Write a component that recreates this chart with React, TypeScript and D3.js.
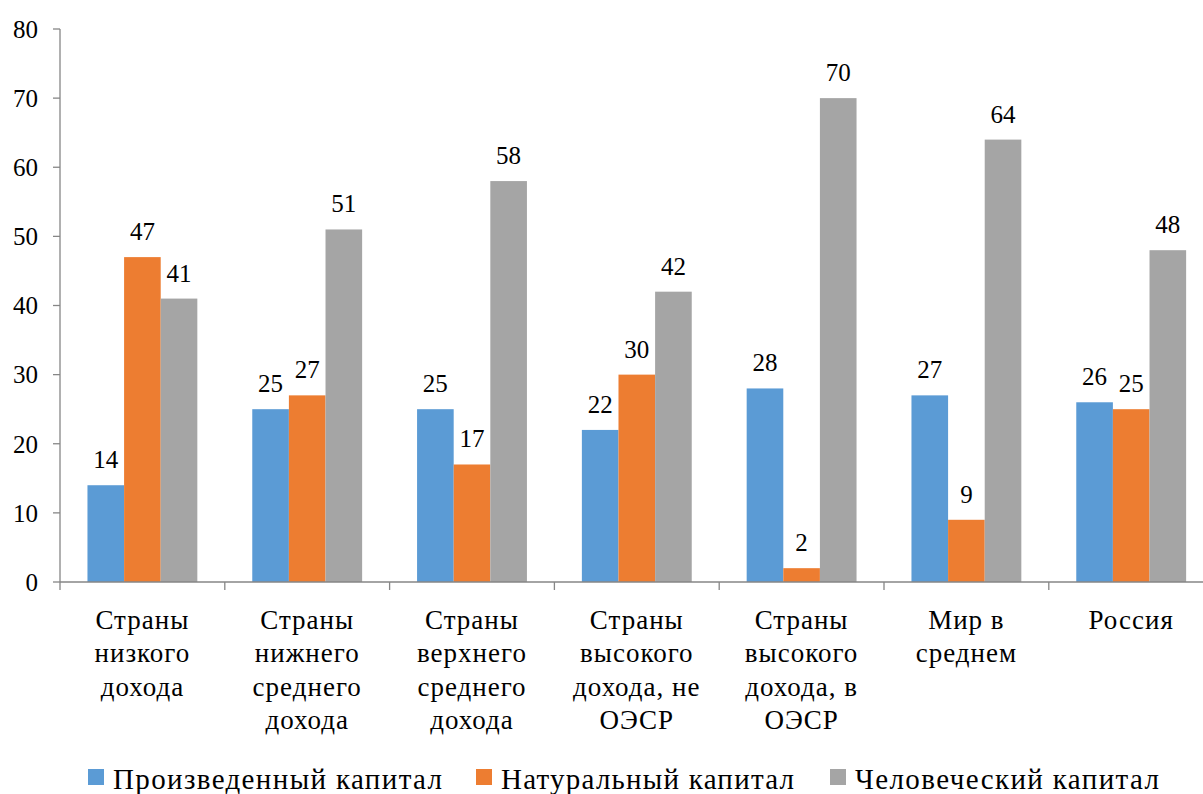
import * as d3 from "d3";

const categories = [
  ["Страны", "низкого", "дохода"],
  ["Страны", "нижнего", "среднего", "дохода"],
  ["Страны", "верхнего", "среднего", "дохода"],
  ["Страны", "высокого", "дохода, не", "ОЭСР"],
  ["Страны", "высокого", "дохода, в", "ОЭСР"],
  ["Мир в", "среднем"],
  ["Россия"],
];

const seriesNames = ["Произведенный капитал", "Натуральный капитал", "Человеческий капитал"];
const seriesColors = ["#5B9BD5", "#ED7D31", "#A5A5A5"];

const produced = [14, 25, 25, 22, 28, 27, 26];
const natural = [47, 27, 17, 30, 2, 9, 25];
const human = [41, 51, 58, 42, 70, 64, 48];

const yTicks = [0, 10, 20, 30, 40, 50, 60, 70, 80];

const W = 1203;
const H = 794;
const FONT = "'Liberation Serif', 'Times New Roman', Tinos, 'DejaVu Serif', serif";
const AXIS = "#868686";

export default function App() {
  const values = [produced, natural, human];
  const catKeys = categories.map((_, i) => String(i));

  const x = d3.scaleBand<string>().domain(catKeys).range([60, 60 + 7 * 164.8]).padding(0);
  const xs = d3.scaleBand<string>().domain(seriesNames).range([0, x.bandwidth()]).paddingInner(0).paddingOuter(0.75);
  const y = d3.scaleLinear().domain([0, 80]).range([582, 29]);

  // legend layout (swatch left edges and text lengths)
  const legendX = [88, 476, 830];
  const legendLen = [329, 293, 304];

  return (
    <svg width={W} height={H} style={{ position: "absolute", left: 0, top: 0, background: "#fff", fontFamily: FONT }}>
      {/* y axis */}
      <line x1={60} x2={60} y1={y(0)} y2={y(80)} stroke={AXIS} strokeWidth={1.3} />
      {yTicks.map((t) => (
        <g key={t}>
          <line x1={53} x2={60} y1={y(t)} y2={y(t)} stroke={AXIS} strokeWidth={1.3} />
          <text x={38} y={y(t)} dy="0.35em" textAnchor="end" style={{ fontFamily: FONT, fontSize: 25 }} fill="#000">
            {t}
          </text>
        </g>
      ))}

      {/* bars */}
      {catKeys.map((k, ci) => (
        <g key={k} transform={`translate(${x(k)},0)`}>
          {seriesNames.map((s, si) => {
            const v = values[si][ci];
            return (
              <g key={s}>
                <rect x={xs(s)} y={y(v)} width={xs.bandwidth()} height={y(0) - y(v)} fill={seriesColors[si]} />
                <text
                  x={(xs(s) ?? 0) + xs.bandwidth() / 2}
                  y={y(v) - 17}
                  textAnchor="middle"
                  style={{ fontFamily: FONT, fontSize: 25 }}
                  fill="#000"
                >
                  {v}
                </text>
              </g>
            );
          })}
        </g>
      ))}

      {/* x axis */}
      <line x1={60} x2={W} y1={y(0)} y2={y(0)} stroke={AXIS} strokeWidth={1.3} />
      {catKeys.map((k) => (
        <line key={k} x1={x(k)} x2={x(k)} y1={y(0)} y2={y(0) + 8} stroke={AXIS} strokeWidth={1.3} />
      ))}
      {categories.map((lines, ci) => (
        <text
          key={ci}
          x={(x(String(ci)) ?? 0) + x.bandwidth() / 2}
          y={629}
          textAnchor="middle"
          style={{ fontFamily: FONT, fontSize: 27, letterSpacing: 1 }}
          fill="#000"
        >
          {lines.map((l, li) => (
            <tspan key={li} x={(x(String(ci)) ?? 0) + x.bandwidth() / 2} y={629 + li * 33.3}>
              {l}
            </tspan>
          ))}
        </text>
      ))}

      {/* legend */}
      {seriesNames.map((s, i) => (
        <g key={s}>
          <rect x={legendX[i]} y={769} width={16} height={16} fill={seriesColors[i]} />
          <text
            x={legendX[i] + 25}
            y={789}
            textLength={legendLen[i]}
            lengthAdjust="spacing"
            style={{ fontFamily: FONT, fontSize: 29 }}
            fill="#000"
          >
            {s}
          </text>
        </g>
      ))}
    </svg>
  );
}
